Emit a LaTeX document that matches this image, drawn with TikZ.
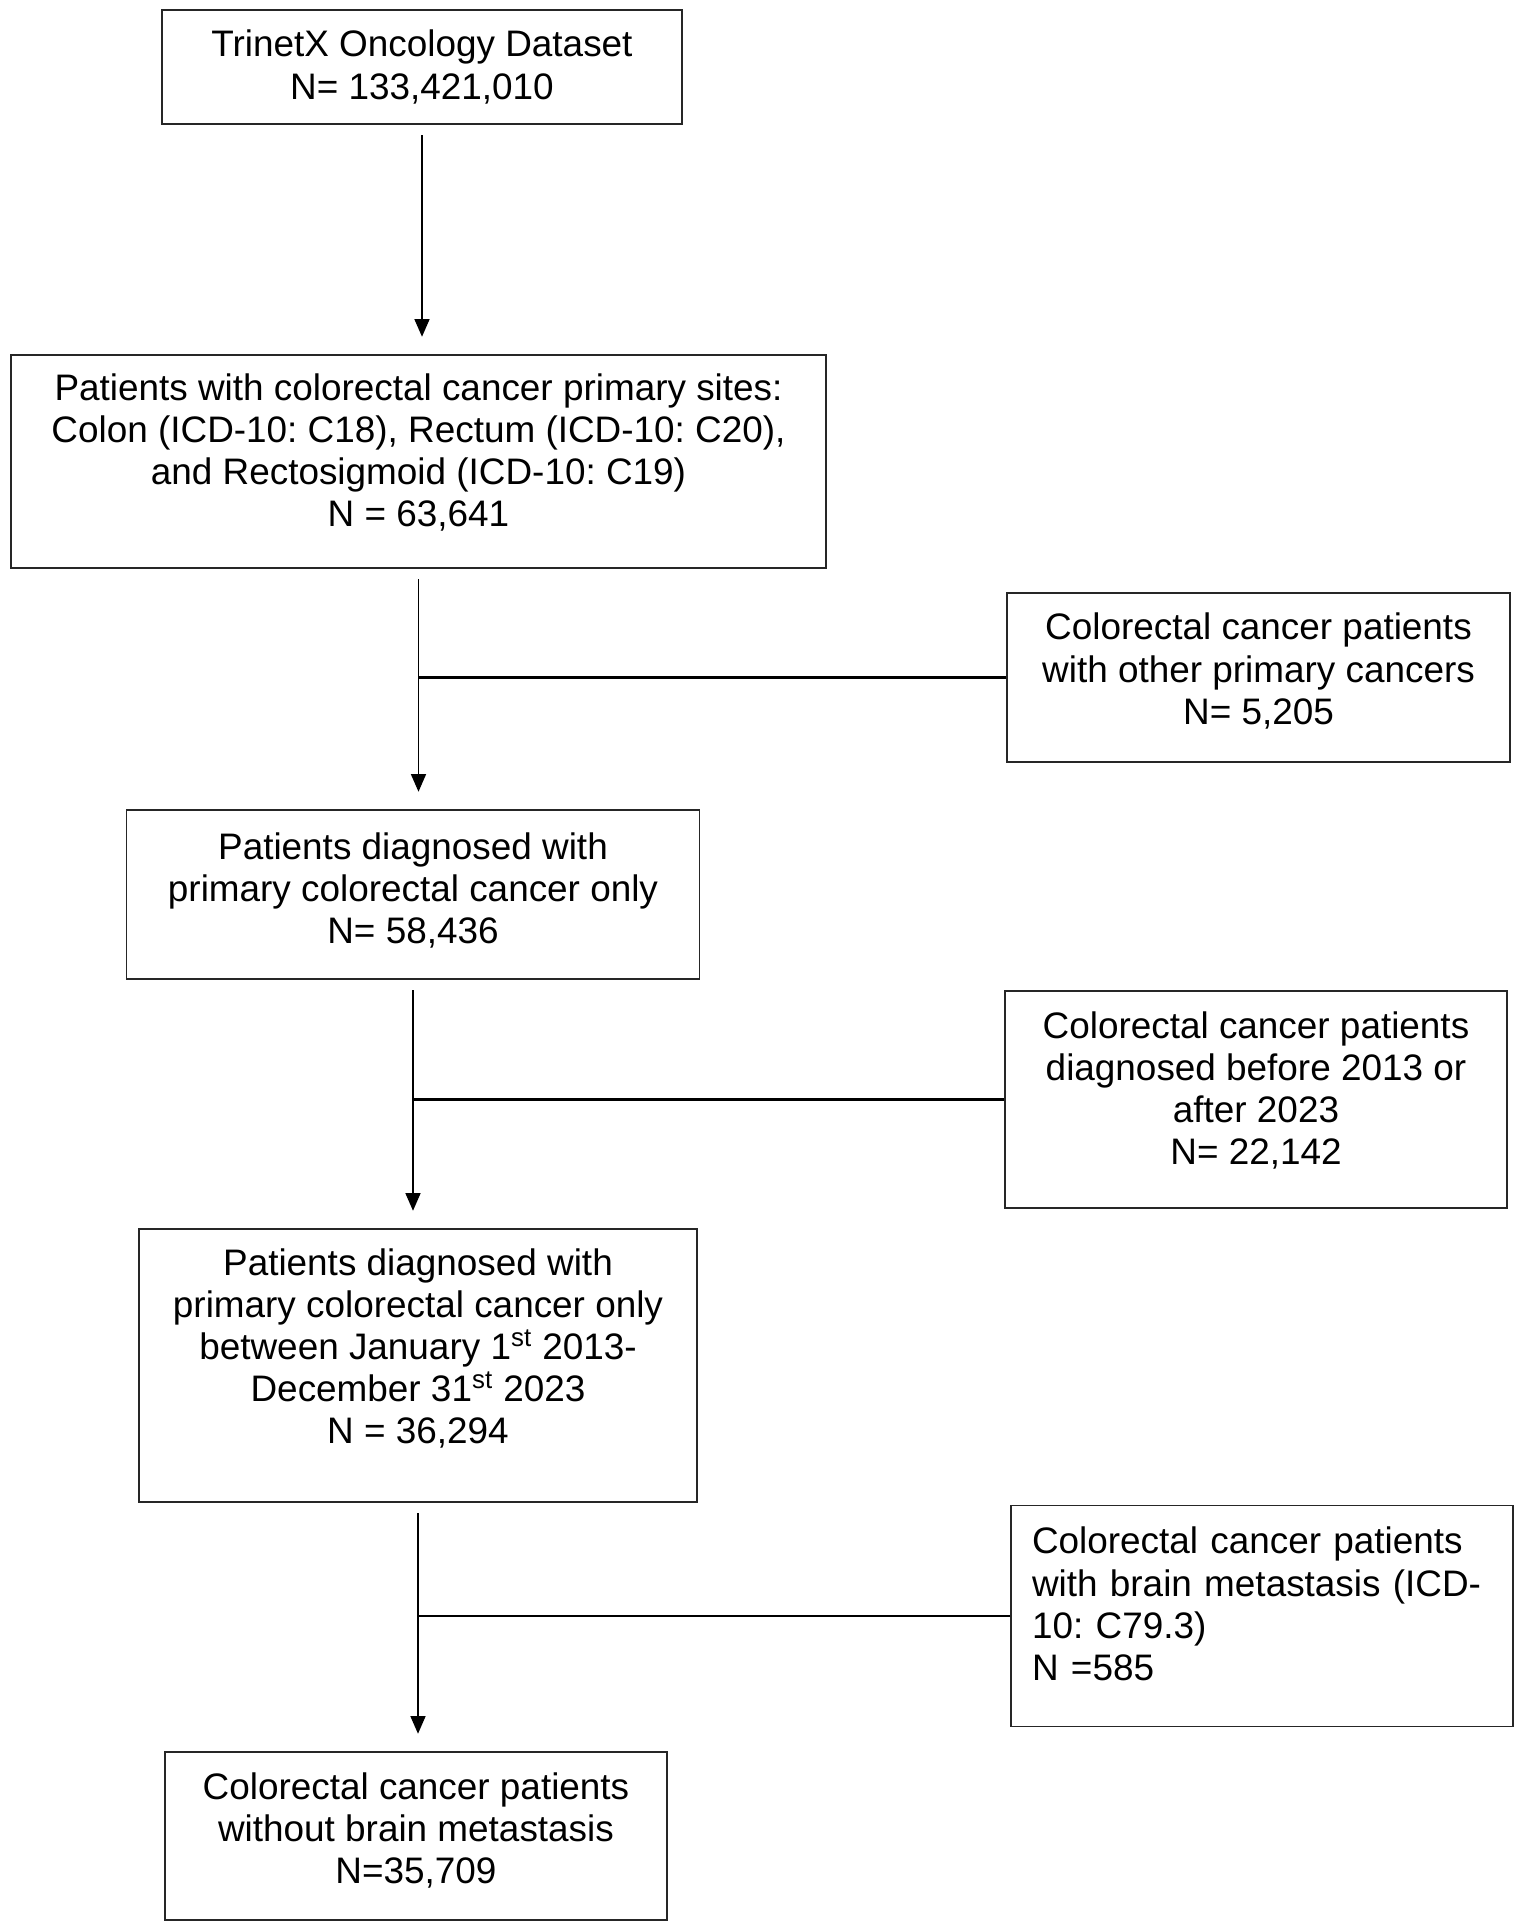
\documentclass[tikz,border=0pt]{standalone}
\usepackage{fontspec}
\setmainfont{Liberation Sans}
\usetikzlibrary{arrows.meta,positioning}
\frenchspacing
\newcommand{\padbelow}[1]{\rule[-#1]{0pt}{#1}}

\begin{document}
\begin{tikzpicture}[x=0.02cm,y=-0.02cm]
        \tikzstyle{every node}+=[inner sep=0pt, font=\fontsize{21}{24}\selectfont]
        \tikzstyle{box}=[draw=black!85, line width=0.8pt, align=center]
        \tikzstyle{flow}=[line width=0.8pt, -{Triangle[width=8.5pt,length=10pt]}, shorten <=6pt, shorten >=10pt]
        \tikzstyle{cut}=[line width=1.3pt]
        \useasboundingbox (0,0) rectangle (1524,1931);
        % main column
        \node [box, minimum width=10.4cm, minimum height=2.28cm] (src) at (422,67) {TrinetX Oncology Dataset\\N= 133,421,010};
        \node [box, minimum width=16.3cm, minimum height=4.26cm] (sites) at (418.5,461.5) {Patients with colorectal cancer primary sites:\\Colon (ICD-10: C18), Rectum (ICD-10: C20),\\and Rectosigmoid (ICD-10: C19)\\N = 63,641\padbelow{13pt}};
        \node [box, minimum width=11.46cm, minimum height=3.38cm] (only) at (413,894.5) {Patients diagnosed with\\primary colorectal cancer only\\N= 58,436\padbelow{7pt}};
        \node [box, minimum width=11.16cm, minimum height=5.46cm] (dated) at (418,1365.5) {Patients diagnosed with\\primary colorectal cancer only\\between January 1\textsuperscript{st} 2013-\\December 31\textsuperscript{st} 2023\\N = 36,294\padbelow{22pt}};
        \node [box, minimum width=10.04cm, minimum height=3.36cm] (final) at (416,1836) {Colorectal cancer patients\\without brain metastasis\\N=35,709\padbelow{9pt}};
        % excluded
        \node [box, minimum width=10.06cm, minimum height=3.38cm] (other) at (1258.5,677.5) {Colorectal cancer patients\\with other primary cancers\\N= 5,205\padbelow{10pt}};
        \node [box, minimum width=10.04cm, minimum height=4.34cm] (period) at (1256,1099.5) {Colorectal cancer patients\\diagnosed before 2013 or\\after 2023\\N= 22,142\padbelow{13pt}};
        \node [box, minimum width=10.04cm, minimum height=4.42cm, text width=9.2cm, align=left] (brain) at (1262,1616) {Colorectal cancer patients\\with brain metastasis (ICD-\\10: C79.3)\\N =585\padbelow{14pt}};
        % connectors
        \draw [flow] (src.south) -- (src.south |- sites.north);
        \draw [flow] (sites.south) -- (sites.south |- only.north);
        \draw [flow] (only.south) -- (only.south |- dated.north);
        \draw [flow] (dated.south) -- (dated.south |- final.north);
        \draw [cut] (other.west) -- (other.west -| sites.south);
        \draw [cut] (period.west) -- (period.west -| only.south);
        \draw [cut] (brain.west) -- (brain.west -| dated.south);
        \end{tikzpicture}
\end{document}
